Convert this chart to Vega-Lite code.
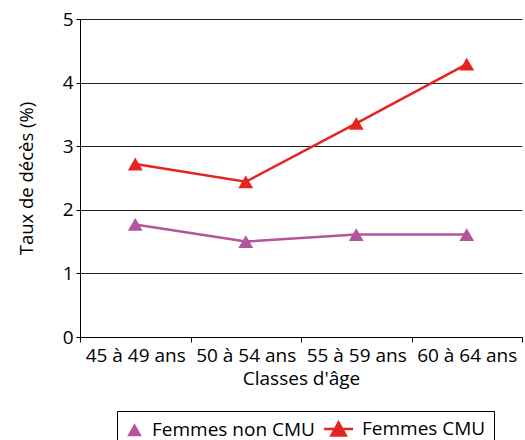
{
  "$schema": "https://vega.github.io/schema/vega-lite/v6.json",
  "autosize": "none",
  "width": 442,
  "height": 318,
  "padding": {"left": 80, "top": 19, "right": 3, "bottom": 103},
  "background": "white",
  "config": {
    "font": "Open Sans",
    "view": {"stroke": null},
    "axis": {
      "labelFont": "Open Sans",
      "titleFont": "Open Sans",
      "labelColor": "black",
      "titleColor": "black",
      "titleFontWeight": "normal",
      "domainColor": "black",
      "tickColor": "black",
      "gridColor": "#222222",
      "gridOpacity": 1
    },
    "legend": {
      "labelFont": "Open Sans",
      "labelColor": "black"
    }
  },
  "data": {
    "values": [
      {"age": "45 à 49 ans", "serie": "Femmes non CMU", "taux": 1.77},
      {"age": "50 à 54 ans", "serie": "Femmes non CMU", "taux": 1.5},
      {"age": "55 à 59 ans", "serie": "Femmes non CMU", "taux": 1.61},
      {"age": "60 à 64 ans", "serie": "Femmes non CMU", "taux": 1.61},
      {"age": "45 à 49 ans", "serie": "Femmes CMU", "taux": 2.72},
      {"age": "50 à 54 ans", "serie": "Femmes CMU", "taux": 2.44},
      {"age": "55 à 59 ans", "serie": "Femmes CMU", "taux": 3.36},
      {"age": "60 à 64 ans", "serie": "Femmes CMU", "taux": 4.29}
    ]
  },
  "encoding": {
    "x": {
      "field": "age",
      "type": "ordinal",
      "scale": {"type": "band", "paddingInner": 0, "paddingOuter": 0},
      "axis": {
        "title": "Classes d'âge",
        "labelAngle": 0,
        "labelFontSize": 19,
        "titleFontSize": 19,
        "tickBand": "extent",
        "tickSize": 5,
        "labelPadding": 4,
        "titlePadding": 4,
        "grid": false
      }
    },
    "y": {
      "field": "taux",
      "type": "quantitative",
      "scale": {"domain": [0, 5], "nice": false},
      "axis": {
        "title": "Taux de décès (%)",
        "values": [0, 1, 2, 3, 4, 5],
        "format": "d",
        "labelFontSize": 19,
        "titleFontSize": 18.5,
        "tickSize": 4,
        "labelPadding": 3,
        "titleX": -44,
        "titleY": 159,
        "grid": true,
        "gridWidth": 1
      }
    },
    "color": {
      "field": "serie",
      "type": "nominal",
      "scale": {
        "domain": ["Femmes non CMU", "Femmes CMU"],
        "range": ["#b3559c", "#e52421"]
      },
      "legend": {
        "title": null,
        "orient": "none",
        "legendX": 37,
        "legendY": 392,
        "direction": "horizontal",
        "columns": 2,
        "labelFontSize": 19,
        "labelLimit": 400,
        "labelOffset": 8,
        "columnPadding": 4,
        "padding": 8,
        "strokeColor": "black",
        "symbolType": "triangle-up",
        "symbolSize": 841,
        "encode": {
          "symbols": {
            "update": {
              "shape": {"signal": "datum.value === 'Femmes CMU' ? 'M-1.41,0H0.59M-0.91,0.45L-0.41,-0.45L0.09,0.45Z' : 'M-0.5,0.45L0,-0.45L0.5,0.45Z'"},
              "fill": {"scale": "color", "field": "value"},
              "stroke": {"scale": "color", "field": "value"},
              "strokeWidth": {"signal": "datum.value === 'Femmes CMU' ? 2.5 : 0"},
              "opacity": {"value": 1}
            }
          }
        }
      }
    }
  },
  "layer": [
    {
      "mark": {"type": "line", "strokeWidth": 2.5}
    },
    {
      "mark": {"type": "point", "shape": "triangle-up", "filled": true, "size": 220, "opacity": 1}
    }
  ]
}
